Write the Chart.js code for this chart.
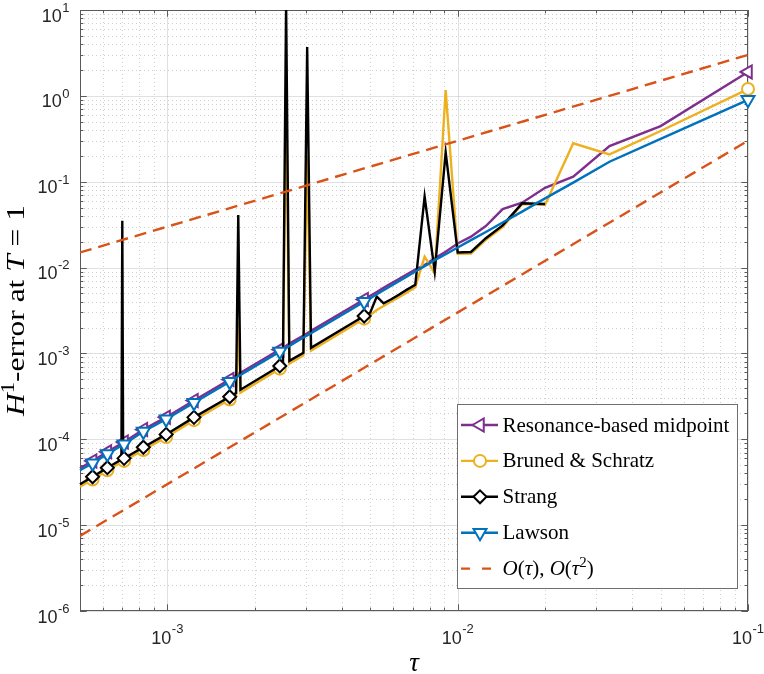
<!DOCTYPE html>
<html>
<head>
<meta charset="utf-8">
<style>
html,body{margin:0;padding:0;background:#ffffff;}
canvas{display:block;}
</style>
<script src="https://cdn.jsdelivr.net/npm/chart.js@4.4.1/dist/chart.umd.min.js"></script>
</head>
<body>
<canvas id="c" width="764" height="674"></canvas>
<script>
// ---- data ----
const tau = [0.1, 0.05, 0.033333, 0.025, 0.02, 0.016667, 0.014286, 0.0125, 0.011111, 0.01,
  0.0090909, 0.0083333, 0.0076923, 0.0071429, 0.0066667, 0.00625, 0.0058824, 0.0055556, 0.0052632, 0.005,
  0.0047619, 0.003125, 0.0030303, 0.0029412, 0.0026316, 0.0025641, 0.0025, 0.002439,
  0.0017857, 0.0017544, 0.0017241, 0.0016393, 0.0012346, 0.0009901, 0.00082645,
  0.00070922, 0.00070423, 0.0006993, 0.00069444, 0.00062112, 0.00055249, 0.0005];

const resonance = [1.9, 0.445, 0.26, 0.1146, 0.085, 0.057, 0.048, 0.0305, 0.0229, 0.0191,
  0.0153, 0.0128, 0.0107, 0.0095, 0.0083, 0.0073, 0.0065, 0.0058, 0.0052, 0.0047,
  0.00425, 0.00183, 0.00172, 0.00162, 0.0013, 0.00123, 0.00117, 0.00111,
  0.000595, 0.000578, 0.000557, 0.000497, 0.000283, 0.000181, 0.00013,
  0.000093, 0.0000915, 0.00009, 0.000089, 0.0000715, 0.000056, 0.000046];

const brunedSchratz = [1.2, 0.39, 0.208, 0.28, 0.054, 0.055, 0.0295, 0.021, 0.0146, 0.0145,
  1.17, 0.0086, 0.0134, 0.0059, 0.0051, 0.0045, 0.004, 0.00357, 0.0032, 0.0028,
  0.00254, 0.00108, 0.2, 0.00095, 0.00076, 0.9, 0.0007, 0.000665,
  0.00035, 0.0023, 0.00032, 0.00029, 0.000167, 0.000106, 0.000075,
  0.000056, 0.000055, 0.0000545, 0.000054, 0.0000435, 0.000034, 0.000028];

const strang = [null, null, null, null, 0.055, 0.056, 0.031, 0.022, 0.0152, 0.015,
  0.22, 0.009, 0.067, 0.0063, 0.0055, 0.0048, 0.00425, 0.00384, 0.0046, 0.003,
  0.00273, 0.00116, 3.7, 0.00102, 0.00082, 12, 0.00075, 0.000715,
  0.000378, 0.041, 0.000346, 0.000313, 0.00018, 0.000114, 0.0000807,
  0.00006, 0.0000595, 0.035, 0.000058, 0.0000467, 0.0000366, 0.00003];

const lawson = [0.9, 0.315, 0.171, 0.0975, 0.064, 0.0448, 0.0335, 0.026, 0.0209, 0.0171,
  0.0143, 0.0122, 0.0104, 0.009, 0.0078, 0.0069, 0.0061, 0.00545, 0.0049, 0.0044,
  0.004, 0.00172, 0.00162, 0.00153, 0.00122, 0.00116, 0.0011, 0.00105,
  0.00056, 0.000545, 0.000525, 0.000469, 0.000267, 0.000171, 0.000123,
  0.0000875, 0.0000865, 0.000085, 0.000084, 0.0000675, 0.0000525, 0.0000435];

const markerTau = [0.1, 0.0047619, 0.002439, 0.0016393, 0.0012346, 0.0009901, 0.00082645, 0.00070922, 0.00062112, 0.00055249];

const refTau = [0.0005, 0.1];
const refOrder1 = [0.015, 3];
const refOrder2 = [0.0000075, 0.3];

const xTickValues = [1e-3, 1e-2, 1e-1];
const xTickLabels = [['10', '-3'], ['10', '-2'], ['10', '-1']];
const yTickValues = [1e-6, 1e-5, 1e-4, 1e-3, 1e-2, 1e-1, 1e0, 1e1];
const yTickLabels = [['10', '-6'], ['10', '-5'], ['10', '-4'], ['10', '-3'], ['10', '-2'], ['10', '-1'], ['10', '0'], ['10', '1']];

const seriesLabels = ['Resonance-based midpoint', 'Bruned & Schratz', 'Strang', 'Lawson'];
const refLabel = 'O(\u03C4), O(\u03C4\u00B2)';

// ---- styling ----
const C_PURPLE = '#7E2F8E', C_YELLOW = '#EDB120', C_BLACK = '#000000', C_BLUE = '#0072BD', C_RED = '#D95319';
const LW = 2.4;
const R_TRI = 7.5, R_DIA = 6.5, R_CIR = 6;
const SERIF = '"Liberation Serif", "DejaVu Serif", serif';
const SANS = '"Liberation Sans", Arial, Helvetica, sans-serif';

function markerRadius(r) { return tau.map(t => markerTau.indexOf(t) >= 0 ? r : 0); }

function series(label, values, color, style, rot, r, order) {
  return {
    label, data: tau.map((t, i) => ({x: t, y: values[i]})),
    borderColor: color, backgroundColor: color, borderWidth: LW,
    pointStyle: style, pointRotation: rot, pointRadius: markerRadius(r),
    pointBackgroundColor: '#ffffff', pointBorderColor: color, pointBorderWidth: 2,
    tension: 0, spanGaps: false, order,
    clip: {left: 8, top: 0, right: 10, bottom: 0}
  };
}

const datasets = [
  series(seriesLabels[0], resonance, C_PURPLE, 'triangle', 270, R_TRI, 4),
  series(seriesLabels[1], brunedSchratz, C_YELLOW, 'circle', 0, R_CIR, 3),
  series(seriesLabels[2], strang, C_BLACK, 'rectRot', 0, R_DIA, 2),
  series(seriesLabels[3], lawson, C_BLUE, 'triangle', 180, R_TRI, 1),
  {label: refLabel, data: refTau.map((t, i) => ({x: t, y: refOrder1[i]})), borderColor: C_RED, borderWidth: LW,
   borderDash: [12, 7], pointRadius: 0, order: 0, clip: 0},
  {label: '_order2', data: refTau.map((t, i) => ({x: t, y: refOrder2[i]})), borderColor: C_RED, borderWidth: LW,
   borderDash: [12, 7], pointRadius: 0, order: 0, clip: 0}
];

function labelFor(values, labels, v) {
  for (let i = 0; i < values.length; i++) if (Math.abs(Math.log10(v) - Math.log10(values[i])) < 1e-6) return labels[i];
  return null;
}

// ---- drawing helpers ----
function drawMarker(ctx, style, rot, x, y, r, color) {
  ctx.save();
  ctx.beginPath();
  let rad = rot * Math.PI / 180;
  if (style === 'circle') { ctx.arc(x, y, r, 0, Math.PI * 2); }
  else if (style === 'triangle') {
    ctx.moveTo(x + Math.sin(rad) * r, y - Math.cos(rad) * r);
    rad += 2 * Math.PI / 3; ctx.lineTo(x + Math.sin(rad) * r, y - Math.cos(rad) * r);
    rad += 2 * Math.PI / 3; ctx.lineTo(x + Math.sin(rad) * r, y - Math.cos(rad) * r);
    ctx.closePath();
  } else if (style === 'rectRot') {
    ctx.moveTo(x - r, y); ctx.lineTo(x, y - r); ctx.lineTo(x + r, y); ctx.lineTo(x, y + r); ctx.closePath();
  }
  ctx.fillStyle = '#ffffff'; ctx.fill();
  ctx.lineWidth = 2; ctx.strokeStyle = color; ctx.stroke();
  ctx.restore();
}

// parts: {t, it, sup}
function richWidth(ctx, parts, size) {
  let w = 0;
  for (const p of parts) {
    ctx.font = (p.it ? 'italic ' : '') + (p.sup ? Math.round(size * 0.7) : size) + 'px ' + SERIF;
    w += ctx.measureText(p.t).width;
  }
  return w;
}
function drawRich(ctx, parts, x, y, size) {
  let cx = x;
  ctx.textAlign = 'left'; ctx.textBaseline = 'alphabetic';
  for (const p of parts) {
    ctx.font = (p.it ? 'italic ' : '') + (p.sup ? Math.round(size * 0.7) : size) + 'px ' + SERIF;
    ctx.fillText(p.t, cx, p.sup ? y - size * 0.38 : y);
    cx += ctx.measureText(p.t).width;
  }
}

// power-of-ten tick label: base + raised exponent
const BASE_FONT = '18px ' + SANS, EXP_FONT = '13px ' + SANS;
function powerWidth(ctx, lab) {
  ctx.font = BASE_FONT; const wb = ctx.measureText(lab[0]).width;
  ctx.font = EXP_FONT; const we = ctx.measureText(lab[1]).width;
  return [wb, we];
}
function drawPower(ctx, lab, xLeft, baseY, expY) {
  const [wb] = powerWidth(ctx, lab);
  ctx.textAlign = 'left'; ctx.textBaseline = 'alphabetic';
  ctx.font = BASE_FONT; ctx.fillText(lab[0], xLeft, baseY);
  ctx.font = EXP_FONT; ctx.fillText(lab[1], xLeft + wb + 0.5, expY);
}

const yTitleParts = [{t: 'H', it: true}, {t: '1', sup: true}, {t: '-error at '}, {t: 'T', it: true}, {t: ' = 1'}];
const legendRefParts = [{t: 'O', it: true}, {t: '('}, {t: '\u03C4', it: true}, {t: '), '}, {t: 'O', it: true}, {t: '('}, {t: '\u03C4', it: true}, {t: '2', sup: true}, {t: ')'}];

const frame = {
  id: 'matlabFrame',
  beforeDatasetsDraw(chart) {
    const {ctx, chartArea: a, scales: {x, y}} = chart;
    ctx.save();
    const xMinor = [], yMinor = [], xMajor = [], yMajor = [];
    for (let e = -4; e <= -1; e++) for (let m = 1; m <= 9; m++) {
      const v = m * Math.pow(10, e);
      if (v < x.min * 0.999 || v > x.max * 1.001) continue;
      (m === 1 ? xMajor : xMinor).push(x.getPixelForValue(v));
    }
    for (let e = -6; e <= 1; e++) for (let m = 1; m <= 9; m++) {
      const v = m * Math.pow(10, e);
      if (v < y.min * 0.999 || v > y.max * 1.001) continue;
      (m === 1 ? yMajor : yMinor).push(y.getPixelForValue(v));
    }
    // minor grid (dotted)
    ctx.strokeStyle = 'rgba(38,38,38,0.22)'; ctx.lineWidth = 1; ctx.setLineDash([1, 3]);
    ctx.beginPath();
    for (const px of xMinor) { const p = Math.round(px) + 0.5; ctx.moveTo(p, a.top); ctx.lineTo(p, a.bottom); }
    for (const py of yMinor) { const p = Math.round(py) + 0.5; ctx.moveTo(a.left, p); ctx.lineTo(a.right, p); }
    ctx.stroke();
    // major grid
    ctx.setLineDash([]); ctx.strokeStyle = 'rgba(38,38,38,0.14)';
    ctx.beginPath();
    for (const px of xMajor) { const p = Math.round(px) + 0.5; ctx.moveTo(p, a.top); ctx.lineTo(p, a.bottom); }
    for (const py of yMajor) { const p = Math.round(py) + 0.5; ctx.moveTo(a.left, p); ctx.lineTo(a.right, p); }
    ctx.stroke();
    // box
    ctx.strokeStyle = '#5a5a5a'; ctx.lineWidth = 1;
    ctx.strokeRect(Math.round(a.left) + 0.5, Math.round(a.top) + 0.5, Math.round(a.right - a.left) - 1, Math.round(a.bottom - a.top) - 1);
    // ticks (inside, all four sides)
    const LMaj = 6.7, LMin = 3.3;
    ctx.beginPath();
    const xt = [...xMajor.map(p => [p, LMaj]), ...xMinor.map(p => [p, LMin])];
    for (const [px, L] of xt) { const p = Math.round(px) + 0.5; ctx.moveTo(p, a.bottom); ctx.lineTo(p, a.bottom - L); ctx.moveTo(p, a.top); ctx.lineTo(p, a.top + L); }
    const yt = [...yMajor.map(p => [p, LMaj]), ...yMinor.map(p => [p, LMin])];
    for (const [py, L] of yt) { const p = Math.round(py) + 0.5; ctx.moveTo(a.left, p); ctx.lineTo(a.left + L, p); ctx.moveTo(a.right, p); ctx.lineTo(a.right - L, p); }
    ctx.stroke();
    ctx.restore();
  },
  afterDraw(chart) {
    const {ctx, chartArea: a, scales: {x, y}} = chart;
    ctx.save();
    ctx.fillStyle = '#262626';
    // tick labels from the scales' own ticks
    for (const t of y.ticks) {
      const lab = labelFor(yTickValues, yTickLabels, t.value); if (!lab) continue;
      const py = y.getPixelForValue(t.value);
      const [wb, we] = powerWidth(ctx, lab);
      drawPower(ctx, lab, 69.5 - we - wb - 0.5, py + 11.5, py + 1.8);
    }
    for (const t of x.ticks) {
      const lab = labelFor(xTickValues, xTickLabels, t.value); if (!lab) continue;
      const px = x.getPixelForValue(t.value);
      const [wb, we] = powerWidth(ctx, lab);
      drawPower(ctx, lab, px - (wb + we + 0.5) / 2, a.bottom + 32.5, a.bottom + 22);
    }
    ctx.fillStyle = '#000000';
    // y title (rotated)
    const ySize = 25;
    const yw = richWidth(ctx, yTitleParts, ySize);
    const target = 211;
    ctx.save();
    ctx.translate(23.5, (a.top + a.bottom) / 2);
    ctx.rotate(-Math.PI / 2);
    ctx.scale(target / yw, 1);
    drawRich(ctx, yTitleParts, -yw / 2, 0, ySize);
    ctx.restore();
    // x title
    ctx.font = 'italic 27px ' + SERIF;
    ctx.textAlign = 'center'; ctx.textBaseline = 'alphabetic';
    ctx.fillText('\u03C4', (a.left + a.right) / 2, 671);

    // legend
    const L = {x: a.right - 291, y: a.bottom - 207, w: 280, h: 184};
    ctx.fillStyle = '#ffffff';
    ctx.fillRect(L.x, L.y, L.w, L.h);
    ctx.strokeStyle = '#6e6e6e'; ctx.lineWidth = 1;
    ctx.strokeRect(L.x + 0.5, L.y + 0.5, L.w, L.h);
    const rows = [
      {c: C_PURPLE, s: 'triangle', r: 270, mr: R_TRI, label: seriesLabels[0]},
      {c: C_YELLOW, s: 'circle', r: 0, mr: R_CIR, label: seriesLabels[1]},
      {c: C_BLACK, s: 'rectRot', r: 0, mr: R_DIA, label: seriesLabels[2]},
      {c: C_BLUE, s: 'triangle', r: 180, mr: R_TRI, label: seriesLabels[3]},
      {c: C_RED, dash: true}
    ];
    const lsize = 21;
    rows.forEach((row, i) => {
      const cy = L.y + 21 + i * 35.9;
      ctx.strokeStyle = row.c; ctx.lineWidth = LW;
      ctx.beginPath();
      if (row.dash) {
        ctx.moveTo(L.x + 4, cy); ctx.lineTo(L.x + 13, cy);
        ctx.moveTo(L.x + 25, cy); ctx.lineTo(L.x + 34, cy);
      } else {
        ctx.moveTo(L.x + 4, cy); ctx.lineTo(L.x + 41, cy);
      }
      ctx.stroke();
      if (!row.dash) drawMarker(ctx, row.s, row.r, L.x + 23, cy, row.mr, row.c);
      ctx.fillStyle = '#000000';
      if (row.dash) drawRich(ctx, legendRefParts, L.x + 45.5, cy + 6.5, lsize);
      else drawRich(ctx, [{t: row.label}], L.x + 45.5, cy + 6.5, lsize);
    });
    ctx.restore();
  }
};

new Chart(document.getElementById('c'), {
  type: 'line',
  data: {datasets},
  options: {
    responsive: false, animation: false, events: [],
    layout: {padding: {top: 10, right: 16, left: 0, bottom: 0}},
    plugins: {legend: {display: false}, tooltip: {enabled: false}},
    scales: {
      x: {
        type: 'logarithmic', min: 0.0005, max: 0.1,
        afterBuildTicks: s => { s.ticks = xTickValues.map(v => ({value: v, major: true})); },
        afterFit: s => { s.height = 63; s.paddingLeft = 0; s.paddingRight = 0; },
        grid: {display: false, drawTicks: false}, border: {display: false},
        ticks: {display: false}
      },
      y: {
        type: 'logarithmic', min: 1e-6, max: 10,
        afterBuildTicks: s => { s.ticks = yTickValues.map(v => ({value: v, major: true})); },
        afterFit: s => { s.width = 80; s.paddingTop = 0; s.paddingBottom = 0; },
        grid: {display: false, drawTicks: false}, border: {display: false},
        ticks: {display: false}
      }
    }
  },
  plugins: [frame]
});
</script>
</body>
</html>
